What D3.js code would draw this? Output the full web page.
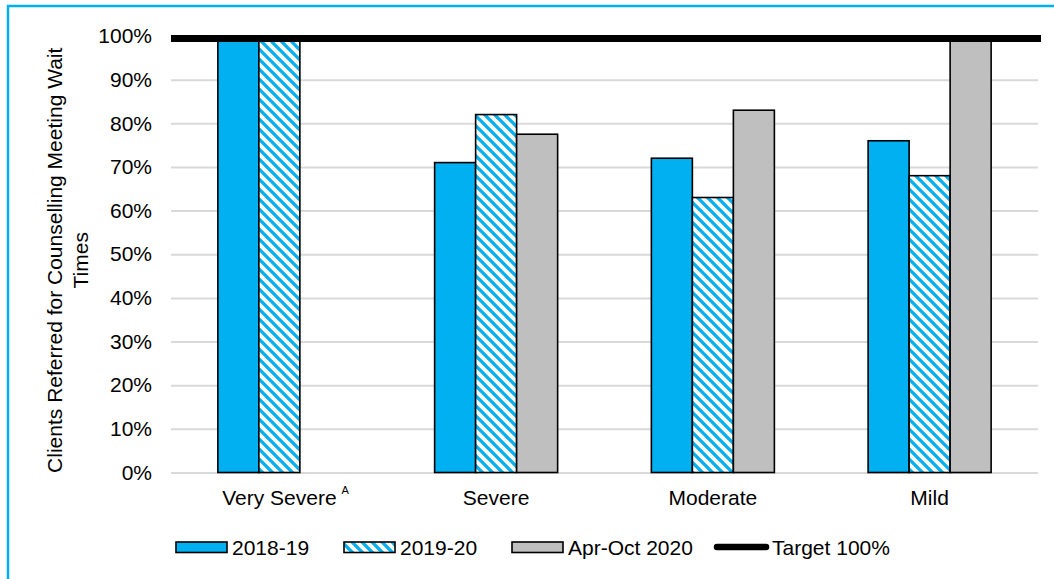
<!DOCTYPE html>
<html lang="en">
<head>
<meta charset="utf-8">
<title>Clients Referred for Counselling Meeting Wait Times</title>
<style>
  body { margin: 0; padding: 0; background: #fff; }
  svg { display: block; font-family: "Liberation Sans", Arial, sans-serif; }
</style>
</head>
<body>
<div id="chart"></div>
<script src="https://d3js.org/d3.v7.min.js"></script>
<script>
  // Chart data
  const categories = ["Very Severe", "Severe", "Moderate", "Mild"];
  const seriesNames = ["2018-19", "2019-20", "Apr-Oct 2020"];
  const values2018 = [1.00, 0.71, 0.72, 0.76];
  const values2019 = [1.00, 0.82, 0.63, 0.68];
  const valuesAprOct = [null, 0.775, 0.83, 1.00];
  const target = 1.0;
  const targetLabel = "Target 100%";
  const yTicks = [0, 0.1, 0.2, 0.3, 0.4, 0.5, 0.6, 0.7, 0.8, 0.9, 1.0];
  const yTitle = ["Clients Referred for Counselling Meeting Wait", "Times"];

  const width = 1054, height = 579;
  const margin = { left: 171, right: 16, top: 36, bottom: 106.5 };
  const blue = "#00B0F0", grey = "#BFBFBF", grid = "#D9D9D9";
  const fontSize = 21;

  const svg = d3.select("#chart").append("svg")
    .attr("width", width)
    .attr("height", height);

  // hatch pattern (wide downward diagonal)
  const defs = svg.append("defs");
  const pat = defs.append("pattern")
    .attr("id", "hatch")
    .attr("patternUnits", "userSpaceOnUse")
    .attr("width", 10).attr("height", 10);
  pat.append("rect").attr("width", 10).attr("height", 10).attr("fill", "#fff");
  pat.append("path")
    .attr("d", "M-5,-5 L15,15 M-5,5 L5,15 M5,-5 L15,5")
    .attr("stroke", blue)
    .attr("stroke-width", 3.3);

  const fills = [blue, "url(#hatch)", grey];

  // outer frame
  svg.append("rect")
    .attr("x", 8).attr("y", 6)
    .attr("width", width + 20).attr("height", height + 20)
    .attr("fill", "none")
    .attr("stroke", blue)
    .attr("stroke-width", 2.5);

  const x0 = d3.scaleBand()
    .domain(categories)
    .range([margin.left, width - margin.right]);

  const x1 = d3.scaleBand()
    .domain(seriesNames)
    .range([0, x0.bandwidth()])
    .paddingOuter(1.143);

  const y = d3.scaleLinear()
    .domain([0, 1])
    .range([height - margin.bottom, margin.top]);

  // gridlines
  svg.append("g")
    .attr("transform", `translate(${margin.left},0)`)
    .call(d3.axisLeft(y).tickValues(yTicks).tickSize(-(width - margin.right - margin.left)).tickFormat(""))
    .call(g => g.select(".domain").remove())
    .call(g => g.selectAll("line").attr("stroke", grid).attr("stroke-width", 2));

  // y tick labels
  svg.append("g")
    .attr("transform", `translate(${margin.left},0)`)
    .call(d3.axisLeft(y).tickValues(yTicks).tickSize(0).tickPadding(19).tickFormat(d3.format(".0%")))
    .call(g => g.select(".domain").remove())
    .call(g => g.selectAll("text")
      .attr("font-size", fontSize)
      .attr("font-family", "Liberation Sans, Arial, sans-serif")
      .attr("fill", "#000"));

  // bars
  const seriesValues = [values2018, values2019, valuesAprOct];
  seriesNames.forEach((s, si) => {
    svg.append("g").selectAll("rect")
      .data(categories.map((c, i) => ({ c, v: seriesValues[si][i] })).filter(d => d.v != null))
      .join("rect")
      .attr("x", d => x0(d.c) + x1(s))
      .attr("y", d => y(d.v))
      .attr("width", x1.bandwidth())
      .attr("height", d => y(0) - y(d.v))
      .attr("fill", fills[si])
      .attr("stroke", "#000")
      .attr("stroke-width", 1.6);
  });

  // target line
  svg.append("line")
    .attr("x1", margin.left)
    .attr("x2", width - margin.right + 3)
    .attr("y1", y(target) + 2.5)
    .attr("y2", y(target) + 2.5)
    .attr("stroke", "#000")
    .attr("stroke-width", 7);

  // category labels
  const catLabels = svg.append("g").selectAll("text")
    .data(categories)
    .join("text")
    .attr("x", d => x0(d) + x0.bandwidth() / 2)
    .attr("y", y(0) + 32)
    .attr("text-anchor", "middle")
    .attr("font-size", fontSize)
    .text(d => d);

  // superscript on first category
  const firstLen = catLabels.nodes()[0].getComputedTextLength();
  svg.append("text")
    .attr("x", x0(categories[0]) + x0.bandwidth() / 2 + firstLen / 2 + 5)
    .attr("y", y(0) + 21)
    .attr("font-size", 11)
    .text("A");

  // y title
  const yt = svg.append("text")
    .attr("transform", `translate(61.5,${(y(0) + y(1)) / 2 + 6}) rotate(-90)`)
    .attr("text-anchor", "middle")
    .attr("font-size", fontSize);
  yt.append("tspan").attr("x", 0).attr("y", 0).text(yTitle[0]);
  yt.append("tspan").attr("x", 0).attr("y", 26).text(yTitle[1]);

  // legend
  const legend = svg.append("g");
  const legY = 547;
  const legX = [176, 344, 512, 715];
  const items = seriesNames.map((s, i) => ({ name: s, fill: fills[i], type: "rect" }))
    .concat([{ name: targetLabel, type: "line" }]);
  items.forEach((it, i) => {
    const lx = legX[i];
    if (it.type === "rect") {
      legend.append("rect")
        .attr("x", lx).attr("y", legY - 5)
        .attr("width", 51).attr("height", 10.5)
        .attr("fill", it.fill)
        .attr("stroke", "#000")
        .attr("stroke-width", 1.6);
      legend.append("text")
        .attr("x", lx + 56)
        .attr("y", legY + 7.5)
        .attr("font-size", fontSize)
        .text(it.name);
    } else {
      legend.append("line")
        .attr("x1", lx + 2).attr("x2", lx + 51)
        .attr("y1", legY).attr("y2", legY)
        .attr("stroke", "#000")
        .attr("stroke-width", 6.5)
        .attr("stroke-linecap", "round");
      legend.append("text")
        .attr("x", lx + 57)
        .attr("y", legY + 7.5)
        .attr("font-size", fontSize)
        .text(it.name);
    }
  });
</script>
</body>
</html>
